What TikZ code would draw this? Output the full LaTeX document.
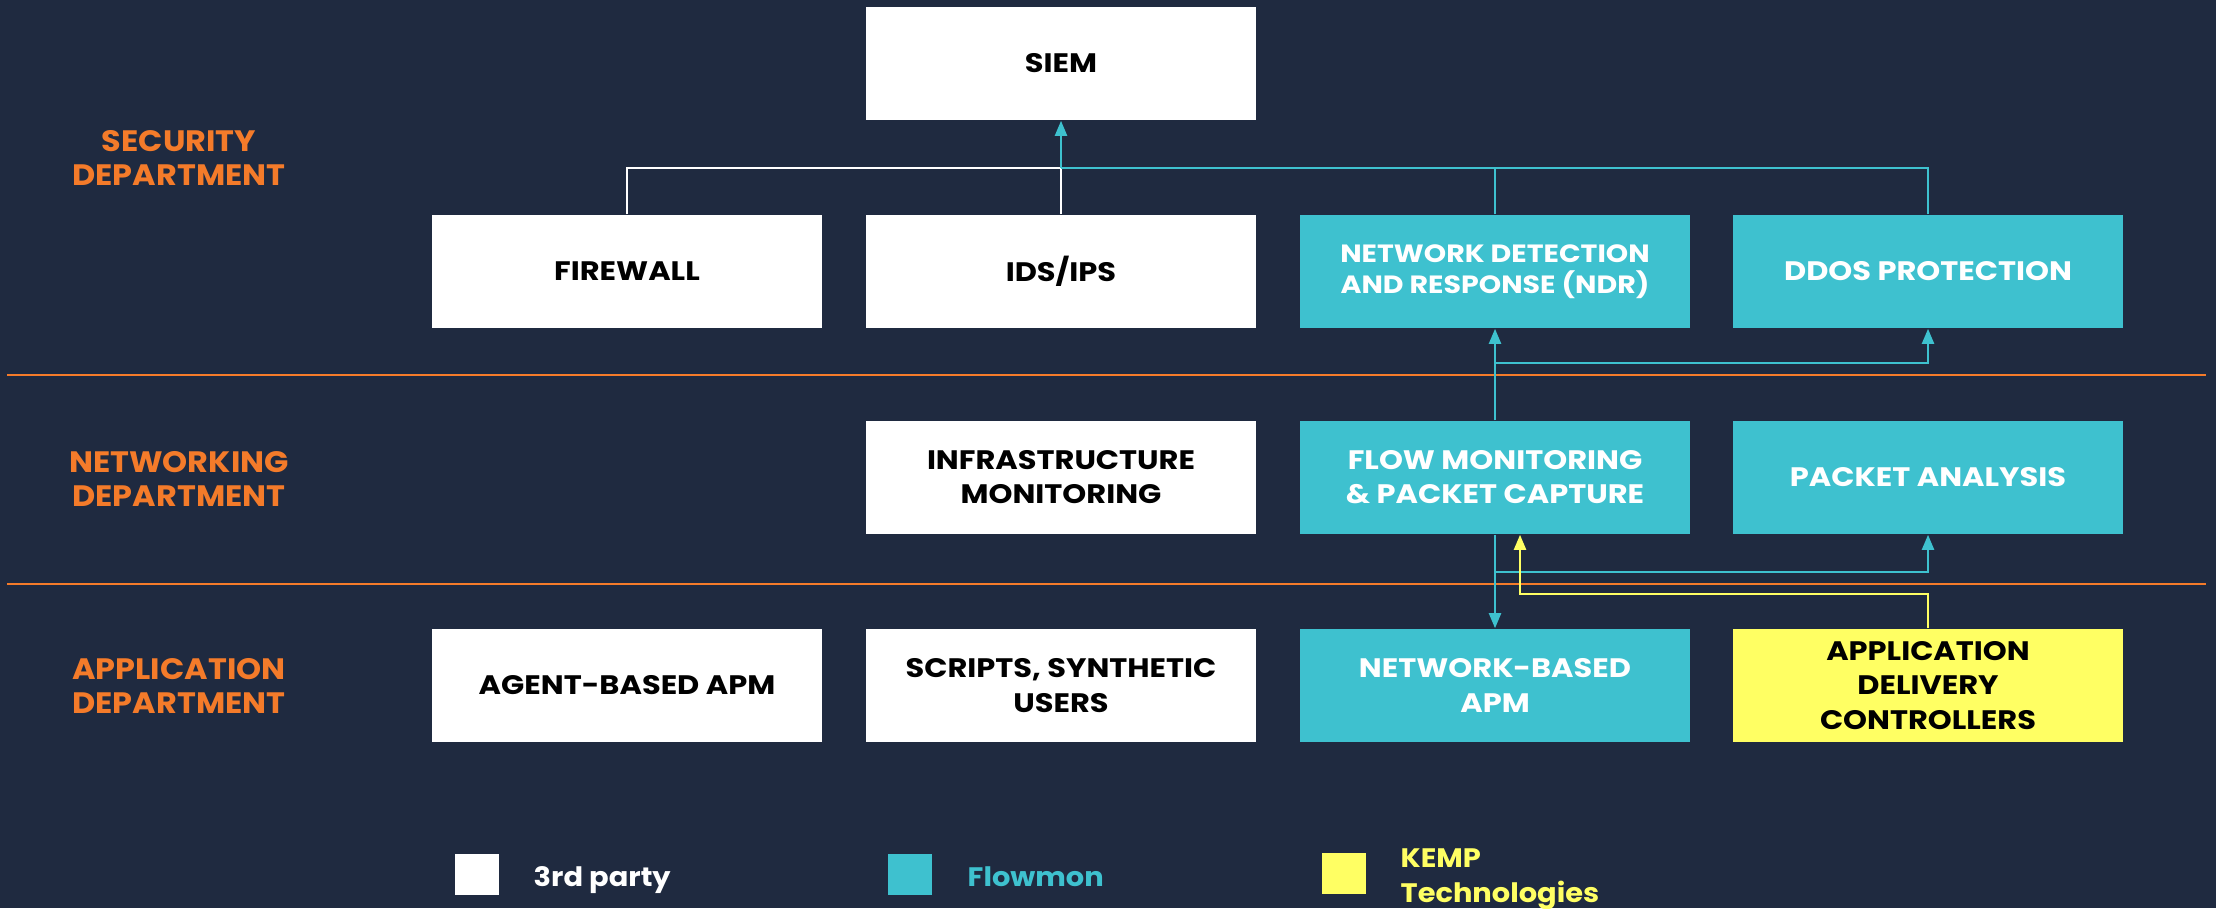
\documentclass[tikz,border=0pt]{standalone}
\usepackage{fontspec}
\setmainfont{Poppins}[FakeStretch=1.08]
\newfontfamily\boxfont{Poppins}[FakeStretch=1.14]
\usetikzlibrary{arrows.meta}

\definecolor{bgblue}{HTML}{1F2A40}
\definecolor{flowcyan}{HTML}{3EC1CF}
\definecolor{kempyellow}{HTML}{FFFF63}
\definecolor{deptorange}{HTML}{F47B2A}

\tikzset{
    box/.style={minimum width=3.9cm,minimum height=1.13cm,inner sep=0pt,align=center,
        font=\boxfont\fontsize{7.6}{9.7}\selectfont\bfseries},
    third/.style={box,fill=white,text=black},
    flowmon/.style={box,fill=flowcyan,text=white},
    kemp/.style={box,fill=kempyellow,text=black},
    dept/.style={text=deptorange,align=center,font=\fontsize{8.4}{9.7}\selectfont\bfseries},
    wline/.style={draw=white,line width=0.6pt},
    cline/.style={draw=flowcyan,line width=0.7pt},
    yline/.style={draw=kempyellow,line width=0.7pt},
    sepline/.style={draw=deptorange,line width=0.6pt},
    legsq/.style={minimum width=0.44cm,minimum height=0.41cm,inner sep=0pt},
    legtxt/.style={anchor=base west,inner sep=0pt,align=left,
        font=\fontsize{7.6}{9.7}\selectfont\bfseries}
}

\begin{document}
\begin{tikzpicture}[x=0.01cm,y=-0.01cm,>={Triangle[length=4.3pt,width=3.4pt]}]
            \useasboundingbox (0,0) rectangle (2216,908);
            \fill[bgblue] (0,0) rectangle (2216,908);
            % department borders
            \draw[sepline] (7,375) -- (2206,375);
            \draw[sepline] (7,584) -- (2206,584);
            \node[dept] (secdep) at (179,158) {SECURITY\\DEPARTMENT};
            \node[dept] (netdep) at (179,479) {NETWORKING\\DEPARTMENT};
            \node[dept] (appdep) at (179,686) {APPLICATION\\DEPARTMENT};
            % security
            \node[third] (siem) at (1061,63.5) {SIEM};
            \node[third] (fw) at (627,271.5) {FIREWALL};
            \node[third] (ids) at (1061,271.5) {IDS/IPS};
            \node[flowmon,font=\boxfont\fontsize{7.1}{8.7}\selectfont\bfseries] (ndr) at (1495,271.5) {NETWORK DETECTION\\AND RESPONSE (NDR)};
            \node[flowmon] (ddos) at (1928,271.5) {DDOS PROTECTION};
            % networking
            \node[third] (infra) at (1061,477.5) {INFRASTRUCTURE\\MONITORING};
            \node[flowmon] (flow) at (1495,477.5) {FLOW MONITORING\\\& PACKET CAPTURE};
            \node[flowmon] (pkt) at (1928,477.5) {PACKET ANALYSIS};
            % application
            \node[third] (agent) at (627,685.5) {AGENT-BASED APM};
            \node[third] (scripts) at (1061,685.5) {SCRIPTS, SYNTHETIC\\USERS};
            \node[flowmon] (napm) at (1495,685.5) {NETWORK-BASED\\APM};
            \node[kemp] (adc) at (1928,685.5) {APPLICATION\\DELIVERY\\CONTROLLERS};
            % connectors
            \coordinate (join) at (1061,168);
            \coordinate (split1) at (1495,363);
            \coordinate (split2) at (1495,572);
            \coordinate (kbend) at (1520,594);
            \draw[wline] (fw.north) |- (join);
            \draw[wline] (ids.north) -- (join);
            \draw[cline] (ddos.north) |- (join);
            \draw[cline] (ndr.north) -- (ndr.north |- join);
            \draw[cline,->] (join) -- (siem.south);
            \draw[cline,->] (flow.north) -- (ndr.south);
            \draw[cline,->] (split1) -| (ddos.south);
            \draw[cline,->] (flow.south) -- (napm.north);
            \draw[cline,->] (split2) -| (pkt.south);
            \draw[yline,->] (adc.north) |- (kbend) -- (kbend |- flow.south);
            % legend
            \node[legsq,fill=white] (sq1) at (477,874.5) {};
            \node[legsq,fill=flowcyan] (sq2) at (910,874.5) {};
            \node[legsq,fill=kempyellow] (sq3) at (1343.5,873.5) {};
            \node[legtxt,text=white] (lg1) at (533,886) {3rd party};
            \node[legtxt,text=flowcyan] (lg2) at (967,886) {Flowmon};
            \node[legtxt,text=kempyellow] (lg3) at (1400,902) {KEMP\\Technologies};
\end{tikzpicture}
\end{document}
